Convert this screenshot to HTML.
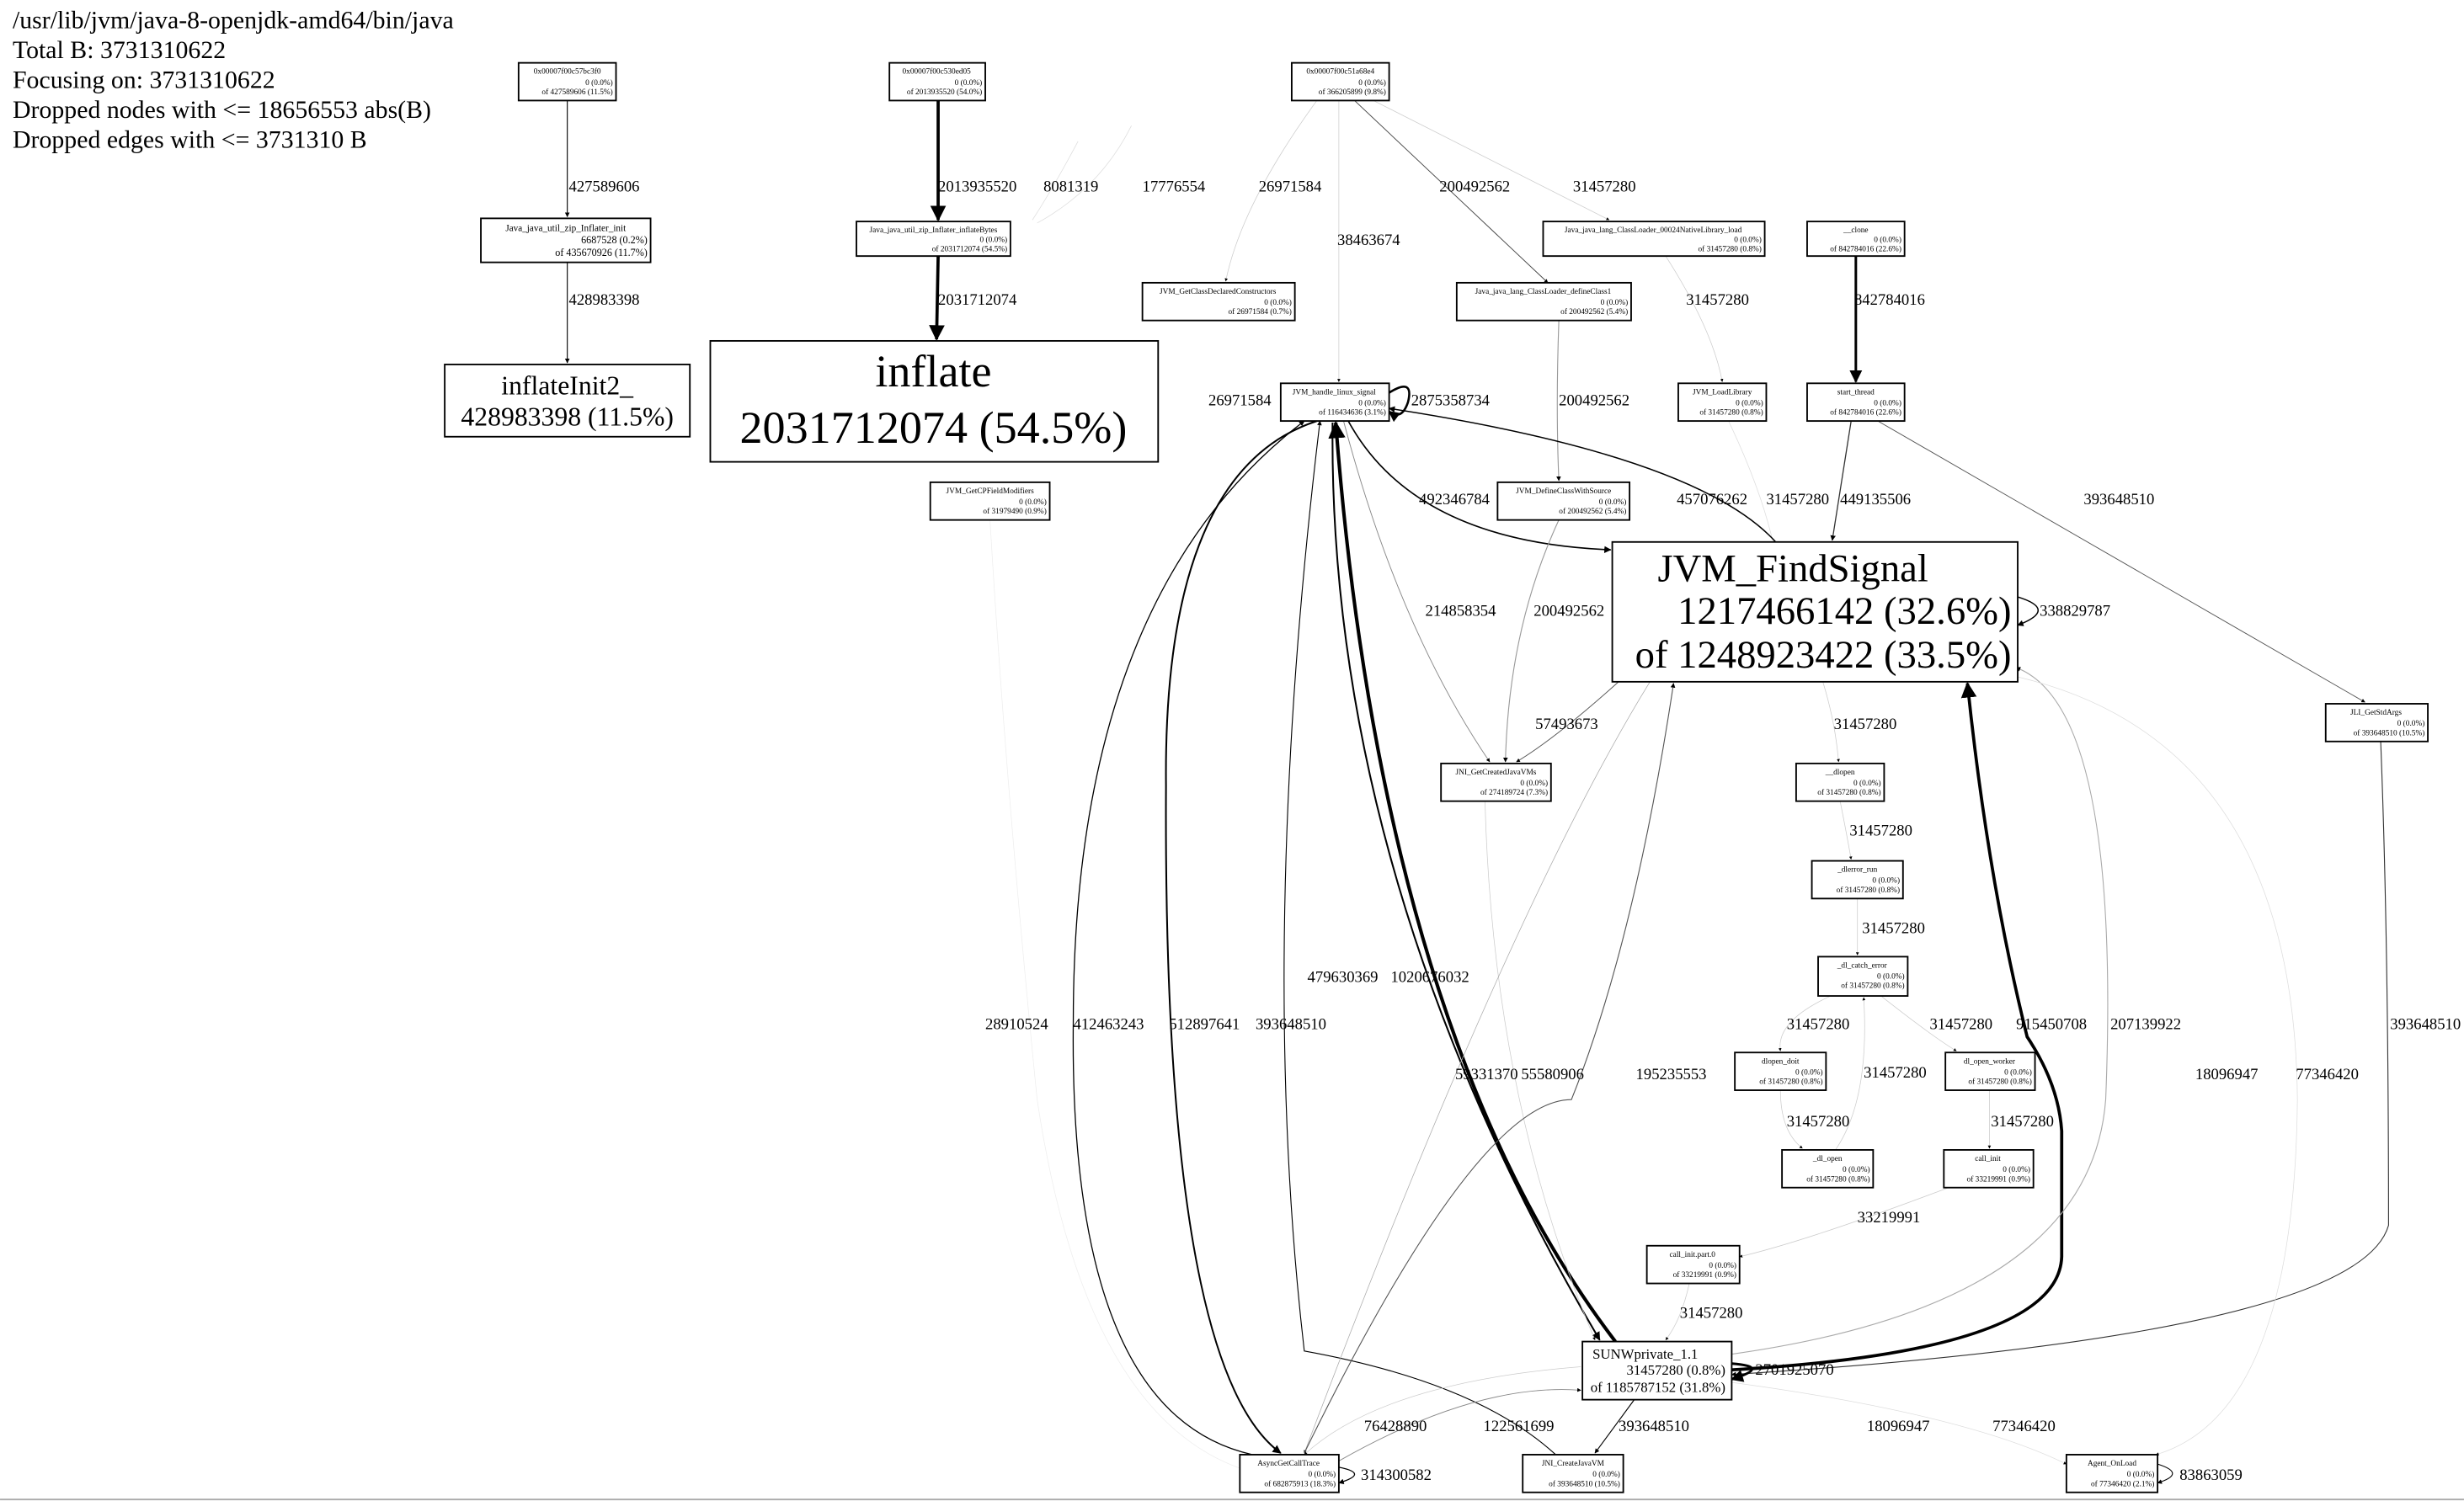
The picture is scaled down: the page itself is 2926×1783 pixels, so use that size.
<!DOCTYPE html>
<html><head><meta charset="utf-8"><style>
html,body{margin:0;padding:0;background:#fff;}
svg{display:block;}
text{font-family:"Liberation Serif",serif;fill:#000;}
.l{font-size:10px;}
.b{fill:#fff;stroke:#000;stroke-width:1;}
.s{font-size:5px;}
</style></head><body>
<svg width="2926" height="1783" viewBox="0 0 1568 955.5" xmlns="http://www.w3.org/2000/svg">
<defs>
<marker id="a" viewBox="0 0 10 10" refX="9" refY="5" markerWidth="5" markerHeight="5" orient="auto"><path d="M0,0L10,5L0,10z" fill="#000"/></marker>
</defs>
<rect width="1568" height="955.5" fill="#fff"/>
<line x1="0" y1="954.5" x2="1568" y2="954.5" stroke="#aaa" stroke-width="1"/>
<g font-size="16">
<text x="8" y="18">/usr/lib/jvm/java-8-openjdk-amd64/bin/java</text>
<text x="8" y="37">Total B: 3731310622</text>
<text x="8" y="56">Focusing on: 3731310622</text>
<text x="8" y="75">Dropped nodes with &lt;= 18656553 abs(B)</text>
<text x="8" y="94">Dropped edges with &lt;= 3731310 B</text>
</g>
<g fill="none">
<path d="M361,64V138" stroke="#000" stroke-width="0.6" marker-end="url(#a)"/>
<path d="M361,167V231" stroke="#000" stroke-width="0.6" marker-end="url(#a)"/>
<path d="M597,64V140" stroke="#000" stroke-width="2" marker-end="url(#a)"/>
<path d="M597,163L596,216" stroke="#000" stroke-width="2" marker-end="url(#a)"/>
<path d="M686,90Q670,120 657,140" stroke="#ddd" stroke-width="0.4"/>
<path d="M720,80Q700,120 660,142" stroke="#ddd" stroke-width="0.4"/>
<path d="M838,64Q790,130 780,179" stroke="#ccc" stroke-width="0.4" marker-end="url(#a)"/>
<path d="M852,64V243" stroke="#ccc" stroke-width="0.4" marker-end="url(#a)"/>
<path d="M862,64L985,180" stroke="#444" stroke-width="0.5" marker-end="url(#a)"/>
<path d="M874,64L1024,140" stroke="#ccc" stroke-width="0.4" marker-end="url(#a)"/>
<path d="M1181,163V243" stroke="#000" stroke-width="1.6" marker-end="url(#a)"/>
<path d="M1060,163Q1090,210 1096,243" stroke="#ccc" stroke-width="0.4" marker-end="url(#a)"/>
<path d="M992,204Q990,260 992,306" stroke="#999" stroke-width="0.6" marker-end="url(#a)"/>
<path d="M1178,268L1166,344" stroke="#333" stroke-width="0.7" marker-end="url(#a)"/>
<path d="M1195,268L1505,447" stroke="#555" stroke-width="0.5" marker-end="url(#a)"/>
<path d="M1100,268Q1120,310 1128,344" stroke="#ddd" stroke-width="0.4"/>
<path d="M884,250Q900,240 896,256Q892,268 884,262" stroke="#000" stroke-width="1.4" marker-end="url(#a)"/>
<path d="M858,268Q900,345 1025,350" stroke="#000" stroke-width="0.9" marker-end="url(#a)"/>
<path d="M1130,345Q1080,290 884,260" stroke="#000" stroke-width="0.8" marker-end="url(#a)"/>
<path d="M1284,380Q1310,388 1284,398" stroke="#000" stroke-width="0.8" marker-end="url(#a)"/>
<path d="M992,331Q960,400 958,485" stroke="#999" stroke-width="0.6" marker-end="url(#a)"/>
<path d="M855,268Q890,400 948,485" stroke="#888" stroke-width="0.5" marker-end="url(#a)"/>
<path d="M1030,434Q990,470 965,485" stroke="#555" stroke-width="0.5" marker-end="url(#a)"/>
<path d="M1160,434Q1168,460 1170,485" stroke="#ccc" stroke-width="0.4" marker-end="url(#a)"/>
<path d="M1171,510Q1175,530 1178,547" stroke="#ccc" stroke-width="0.4" marker-end="url(#a)"/>
<path d="M1182,572V608" stroke="#ccc" stroke-width="0.4" marker-end="url(#a)"/>
<path d="M1165,634Q1130,650 1133,669" stroke="#ccc" stroke-width="0.4" marker-end="url(#a)"/>
<path d="M1197,634Q1230,660 1245,669" stroke="#ccc" stroke-width="0.4" marker-end="url(#a)"/>
<path d="M1133,694Q1133,720 1147,731" stroke="#ccc" stroke-width="0.4" marker-end="url(#a)"/>
<path d="M1168,732Q1190,700 1186,635" stroke="#ccc" stroke-width="0.4" marker-end="url(#a)"/>
<path d="M1266,694V731" stroke="#ccc" stroke-width="0.4" marker-end="url(#a)"/>
<path d="M1240,756Q1150,790 1107,800" stroke="#ccc" stroke-width="0.4" marker-end="url(#a)"/>
<path d="M1075,817Q1070,840 1060,853" stroke="#ccc" stroke-width="0.4" marker-end="url(#a)"/>
<path d="M1515,472Q1520,600 1520,780Q1500,850 1102,875" stroke="#333" stroke-width="0.6" marker-end="url(#a)"/>
<path d="M1102,872Q1310,860 1312,800V720Q1310,690 1290,660Q1265,560 1252,435" stroke="#000" stroke-width="2" marker-end="url(#a)"/>
<path d="M1102,862Q1330,830 1340,700Q1350,450 1283,425" stroke="#aaa" stroke-width="0.6" marker-end="url(#a)"/>
<path d="M1028,854Q880,660 850,269" stroke="#000" stroke-width="2.2" marker-end="url(#a)"/>
<path d="M848,269Q845,560 1018,853" stroke="#000" stroke-width="1.1" marker-end="url(#a)"/>
<path d="M838,268Q740,300 742,500Q740,870 815,925" stroke="#000" stroke-width="1.1" marker-end="url(#a)"/>
<path d="M797,926Q680,900 683,650Q683,380 830,268" stroke="#000" stroke-width="0.7" marker-end="url(#a)"/>
<path d="M990,926Q940,880 830,860Q800,600 840,268" stroke="#000" stroke-width="0.6" marker-end="url(#a)"/>
<path d="M630,331Q640,500 660,700Q690,900 790,935" stroke="#eee" stroke-width="0.4"/>
<path d="M945,510Q950,700 1015,853" stroke="#ccc" stroke-width="0.4" marker-end="url(#a)"/>
<path d="M1050,434Q960,580 830,925" stroke="#aaa" stroke-width="0.4" marker-end="url(#a)"/>
<path d="M830,925Q940,700 1000,700Q1040,600 1065,435" stroke="#555" stroke-width="0.6" marker-end="url(#a)"/>
<path d="M1280,430Q1460,470 1462,700Q1460,900 1372,926" stroke="#ddd" stroke-width="0.4" marker-end="url(#a)"/>
<path d="M1102,880Q1250,900 1315,932" stroke="#ddd" stroke-width="0.4" marker-end="url(#a)"/>
<path d="M1102,868Q1128,870 1102,878" stroke="#000" stroke-width="1.6" marker-end="url(#a)"/>
<path d="M1040,891L1015,925" stroke="#000" stroke-width="0.6" marker-end="url(#a)"/>
<path d="M852,930Q940,880 1006,885" stroke="#888" stroke-width="0.5" marker-end="url(#a)"/>
<path d="M1006,870Q880,880 830,926" stroke="#ccc" stroke-width="0.4" marker-end="url(#a)"/>
<path d="M852,934Q872,938 852,944" stroke="#000" stroke-width="0.7" marker-end="url(#a)"/>
<path d="M1373,932Q1392,938 1373,944" stroke="#000" stroke-width="0.6" marker-end="url(#a)"/>
</g>
<g class="l">
<text x="362" y="122">427589606</text><text x="362" y="194">428983398</text>
<text x="597" y="122">2013935520</text><text x="597" y="194">2031712074</text>
<text x="664" y="122">8081319</text><text x="727" y="122">17776554</text>
<text x="801" y="122">26971584</text><text x="916" y="122">200492562</text>
<text x="1001" y="122">31457280</text><text x="851" y="156">38463674</text>
<text x="1180" y="194">842784016</text><text x="1073" y="194">31457280</text>
<text x="992" y="258">200492562</text><text x="898" y="258">2875358734</text>
<text x="769" y="258">26971584</text>
<text x="903" y="321">492346784</text><text x="1067" y="321">457076262</text>
<text x="1124" y="321">31457280</text><text x="1171" y="321">449135506</text>
<text x="1326" y="321">393648510</text><text x="1298" y="392">338829787</text>
<text x="907" y="392">214858354</text><text x="976" y="392">200492562</text>
<text x="977" y="464">57493673</text><text x="1167" y="464">31457280</text>
<text x="1177" y="532">31457280</text><text x="1185" y="594">31457280</text>
<text x="1137" y="655">31457280</text><text x="1228" y="655">31457280</text>
<text x="1186" y="686">31457280</text><text x="1137" y="717">31457280</text>
<text x="1267" y="717">31457280</text><text x="1182" y="778">33219991</text>
<text x="1069" y="839">31457280</text>
<text x="627" y="655">28910524</text><text x="683" y="655">412463243</text>
<text x="744" y="655">512897641</text><text x="799" y="655">393648510</text>
<text x="832" y="625">479630369</text><text x="885" y="625">1020676032</text>
<text x="926" y="687">59331370</text><text x="968" y="687">55580906</text>
<text x="1041" y="687">195235553</text>
<text x="1283" y="655">915450708</text><text x="1343" y="655">207139922</text>
<text x="1397" y="687">18096947</text><text x="1461" y="687">77346420</text>
<text x="1521" y="655">393648510</text>
<text x="1117" y="875">2701925070</text>
<text x="868" y="911">76428890</text><text x="944" y="911">122561699</text>
<text x="1030" y="911">393648510</text><text x="1188" y="911">18096947</text>
<text x="1268" y="911">77346420</text>
<text x="866" y="942">314300582</text><text x="1387" y="942">83863059</text>
</g>
<g class="s">
<rect class="b" x="330" y="40" width="62" height="24"/><text x="361" y="47" text-anchor="middle">0x00007f00c57bc3f0</text><text x="390" y="54" text-anchor="end">0 (0.0%)</text><text x="390" y="60" text-anchor="end">of 427589606 (11.5%)</text>
<rect class="b" x="566" y="40" width="61" height="24"/><text x="596" y="47" text-anchor="middle">0x00007f00c530ed05</text><text x="625" y="54" text-anchor="end">0 (0.0%)</text><text x="625" y="60" text-anchor="end">of 2013935520 (54.0%)</text>
<rect class="b" x="822" y="40" width="62" height="24"/><text x="853" y="47" text-anchor="middle">0x00007f00c51a68e4</text><text x="882" y="54" text-anchor="end">0 (0.0%)</text><text x="882" y="60" text-anchor="end">of 366205899 (9.8%)</text>
<rect class="b" x="306" y="139" width="108" height="28"/><text x="360" y="147" text-anchor="middle" font-size="6">Java_java_util_zip_Inflater_init</text><text x="412" y="155" text-anchor="end" font-size="6.5">6687528 (0.2%)</text><text x="412" y="163" text-anchor="end" font-size="6.5">of 435670926 (11.7%)</text>
<rect class="b" x="545" y="141" width="98" height="22"/><text x="594" y="148" text-anchor="middle">Java_java_util_zip_Inflater_inflateBytes</text><text x="641" y="154" text-anchor="end">0 (0.0%)</text><text x="641" y="160" text-anchor="end">of 2031712074 (54.5%)</text>
<rect class="b" x="283" y="232" width="156" height="46"/><text x="361" y="251" text-anchor="middle" font-size="17">inflateInit2_</text><text x="361" y="271" text-anchor="middle" font-size="17">428983398 (11.5%)</text>
<rect class="b" x="452" y="217" width="285" height="77"/><text x="594" y="246" text-anchor="middle" font-size="29">inflate</text><text x="594" y="282" text-anchor="middle" font-size="29">2031712074 (54.5%)</text>
<rect class="b" x="727" y="180" width="97" height="24"/><text x="775" y="187" text-anchor="middle">JVM_GetClassDeclaredConstructors</text><text x="822" y="194" text-anchor="end">0 (0.0%)</text><text x="822" y="200" text-anchor="end">of 26971584 (0.7%)</text>
<rect class="b" x="927" y="180" width="111" height="24"/><text x="982" y="187" text-anchor="middle">Java_java_lang_ClassLoader_defineClass1</text><text x="1036" y="194" text-anchor="end">0 (0.0%)</text><text x="1036" y="200" text-anchor="end">of 200492562 (5.4%)</text>
<rect class="b" x="982" y="141" width="141" height="22"/><text x="1052" y="148" text-anchor="middle">Java_java_lang_ClassLoader_00024NativeLibrary_load</text><text x="1121" y="154" text-anchor="end">0 (0.0%)</text><text x="1121" y="160" text-anchor="end">of 31457280 (0.8%)</text>
<rect class="b" x="1150" y="141" width="62" height="22"/><text x="1181" y="148" text-anchor="middle">__clone</text><text x="1210" y="154" text-anchor="end">0 (0.0%)</text><text x="1210" y="160" text-anchor="end">of 842784016 (22.6%)</text>
<rect class="b" x="1150" y="244" width="62" height="24"/><text x="1181" y="251" text-anchor="middle">start_thread</text><text x="1210" y="258" text-anchor="end">0 (0.0%)</text><text x="1210" y="264" text-anchor="end">of 842784016 (22.6%)</text>
<rect class="b" x="1068" y="244" width="56" height="24"/><text x="1096" y="251" text-anchor="middle">JVM_LoadLibrary</text><text x="1122" y="258" text-anchor="end">0 (0.0%)</text><text x="1122" y="264" text-anchor="end">of 31457280 (0.8%)</text>
<rect class="b" x="815" y="244" width="69" height="24"/><text x="849" y="251" text-anchor="middle">JVM_handle_linux_signal</text><text x="882" y="258" text-anchor="end">0 (0.0%)</text><text x="882" y="264" text-anchor="end">of 116434636 (3.1%)</text>
<rect class="b" x="592" y="307" width="76" height="24"/><text x="630" y="314" text-anchor="middle">JVM_GetCPFieldModifiers</text><text x="666" y="321" text-anchor="end">0 (0.0%)</text><text x="666" y="327" text-anchor="end">of 31979490 (0.9%)</text>
<rect class="b" x="953" y="307" width="84" height="24"/><text x="995" y="314" text-anchor="middle">JVM_DefineClassWithSource</text><text x="1035" y="321" text-anchor="end">0 (0.0%)</text><text x="1035" y="327" text-anchor="end">of 200492562 (5.4%)</text>
<rect class="b" x="1026" y="345" width="258" height="89"/><text x="1141" y="370" text-anchor="middle" font-size="25">JVM_FindSignal</text><text x="1280" y="397" text-anchor="end" font-size="25">1217466142 (32.6%)</text><text x="1280" y="425" text-anchor="end" font-size="25">of 1248923422 (33.5%)</text>
<rect class="b" x="1480" y="448" width="65" height="24"/><text x="1512" y="455" text-anchor="middle">JLI_GetStdArgs</text><text x="1543" y="462" text-anchor="end">0 (0.0%)</text><text x="1543" y="468" text-anchor="end">of 393648510 (10.5%)</text>
<rect class="b" x="917" y="486" width="70" height="24"/><text x="952" y="493" text-anchor="middle">JNI_GetCreatedJavaVMs</text><text x="985" y="500" text-anchor="end">0 (0.0%)</text><text x="985" y="506" text-anchor="end">of 274189724 (7.3%)</text>
<rect class="b" x="1143" y="486" width="56" height="24"/><text x="1171" y="493" text-anchor="middle">__dlopen</text><text x="1197" y="500" text-anchor="end">0 (0.0%)</text><text x="1197" y="506" text-anchor="end">of 31457280 (0.8%)</text>
<rect class="b" x="1153" y="548" width="58" height="24"/><text x="1182" y="555" text-anchor="middle">_dlerror_run</text><text x="1209" y="562" text-anchor="end">0 (0.0%)</text><text x="1209" y="568" text-anchor="end">of 31457280 (0.8%)</text>
<rect class="b" x="1157" y="609" width="57" height="25"/><text x="1185" y="616" text-anchor="middle">_dl_catch_error</text><text x="1212" y="623" text-anchor="end">0 (0.0%)</text><text x="1212" y="629" text-anchor="end">of 31457280 (0.8%)</text>
<rect class="b" x="1104" y="670" width="58" height="24"/><text x="1133" y="677" text-anchor="middle">dlopen_doit</text><text x="1160" y="684" text-anchor="end">0 (0.0%)</text><text x="1160" y="690" text-anchor="end">of 31457280 (0.8%)</text>
<rect class="b" x="1238" y="670" width="57" height="24"/><text x="1266" y="677" text-anchor="middle">dl_open_worker</text><text x="1293" y="684" text-anchor="end">0 (0.0%)</text><text x="1293" y="690" text-anchor="end">of 31457280 (0.8%)</text>
<rect class="b" x="1134" y="732" width="58" height="24"/><text x="1163" y="739" text-anchor="middle">_dl_open</text><text x="1190" y="746" text-anchor="end">0 (0.0%)</text><text x="1190" y="752" text-anchor="end">of 31457280 (0.8%)</text>
<rect class="b" x="1237" y="732" width="57" height="24"/><text x="1265" y="739" text-anchor="middle">call_init</text><text x="1292" y="746" text-anchor="end">0 (0.0%)</text><text x="1292" y="752" text-anchor="end">of 33219991 (0.9%)</text>
<rect class="b" x="1048" y="793" width="59" height="24"/><text x="1077" y="800" text-anchor="middle">call_init.part.0</text><text x="1105" y="807" text-anchor="end">0 (0.0%)</text><text x="1105" y="813" text-anchor="end">of 33219991 (0.9%)</text>
<rect class="b" x="1007" y="854" width="95" height="37"/><text x="1047" y="865" text-anchor="middle" font-size="9">SUNWprivate_1.1</text><text x="1098" y="875" text-anchor="end" font-size="9">31457280 (0.8%)</text><text x="1098" y="886" text-anchor="end" font-size="9">of 1185787152 (31.8%)</text>
<rect class="b" x="789" y="926" width="63" height="24"/><text x="820" y="933" text-anchor="middle">AsyncGetCallTrace</text><text x="850" y="940" text-anchor="end">0 (0.0%)</text><text x="850" y="946" text-anchor="end">of 682875913 (18.3%)</text>
<rect class="b" x="969" y="926" width="64" height="24"/><text x="1001" y="933" text-anchor="middle">JNI_CreateJavaVM</text><text x="1031" y="940" text-anchor="end">0 (0.0%)</text><text x="1031" y="946" text-anchor="end">of 393648510 (10.5%)</text>
<rect class="b" x="1315" y="926" width="58" height="24"/><text x="1344" y="933" text-anchor="middle">Agent_OnLoad</text><text x="1371" y="940" text-anchor="end">0 (0.0%)</text><text x="1371" y="946" text-anchor="end">of 77346420 (2.1%)</text>
</g>
</svg>
</body></html>
